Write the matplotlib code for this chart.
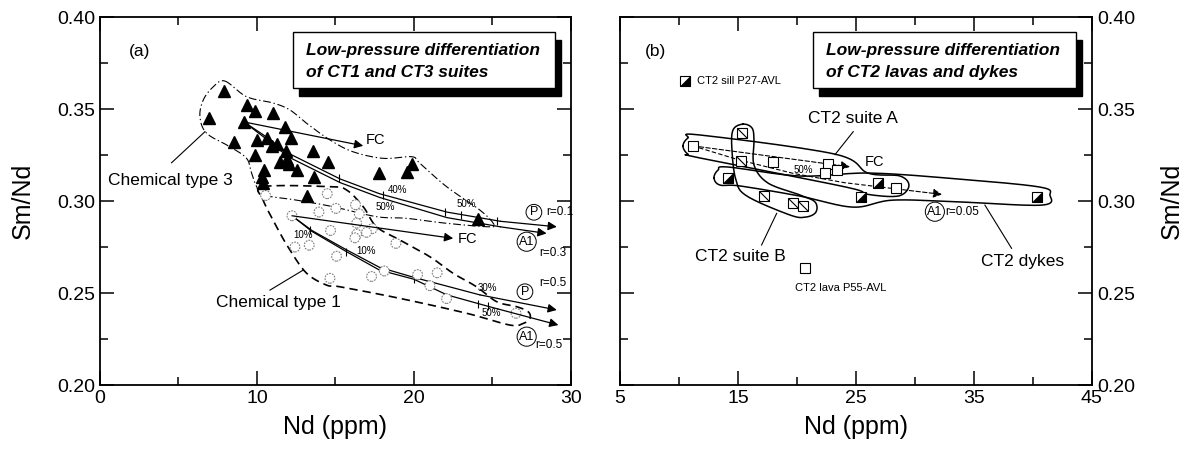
import numpy as np
import matplotlib.pyplot as plt
from matplotlib.path import Path
from matplotlib.patches import Rectangle
from matplotlib.ticker import MultipleLocator, FormatStrFormatter

plt.rcParams['font.family'] = ['Liberation Sans', 'DejaVu Sans']

# ---------------- panel (a): CT3 and CT1 suites ----------------
ct3_nd = [7.92, 6.96, 9.36, 9.87, 11.0, 9.17, 11.78, 8.56, 10.0, 10.66, 10.98, 11.25,
          12.14, 9.87, 11.83, 13.59, 11.46, 11.89, 12.06, 12.57, 14.5, 10.45, 10.34,
          10.38, 13.65, 17.79, 19.53, 19.9, 13.16, 24.1]
ct3_smnd = [0.360, 0.345, 0.352, 0.349, 0.348, 0.343, 0.340, 0.332, 0.333, 0.334, 0.330, 0.331,
            0.334, 0.325, 0.327, 0.327, 0.321, 0.323, 0.320, 0.317, 0.321, 0.317, 0.313,
            0.310, 0.313, 0.315, 0.316, 0.320, 0.303, 0.290]

ct1_nd = [10.55, 14.48, 12.23, 13.95, 15.03, 16.28, 16.52, 16.35, 14.69, 16.35, 17.35, 16.98,
          16.24, 18.85, 12.42, 13.33, 15.07, 18.11, 14.65, 17.3, 20.23, 21.48, 21.02, 22.08, 26.5]
ct1_smnd = [0.303, 0.304, 0.292, 0.294, 0.296, 0.298, 0.293, 0.288, 0.284, 0.282, 0.285, 0.283,
            0.280, 0.277, 0.275, 0.276, 0.270, 0.262, 0.258, 0.259, 0.260, 0.261, 0.254, 0.247, 0.239]

# fractional crystallisation / AFC paths
fc3_nd = [9.17, 16.77]
fc3_smnd = [0.343, 0.330]
p3_nd = [9.17, 10.4, 12.0, 15.3, 17.8, 22.1, 25.5, 29.1]
p3_smnd = [0.343, 0.336, 0.326, 0.312, 0.304, 0.294, 0.289, 0.286]
a3_nd = [9.17, 10.4, 12.0, 15.3, 17.8, 22.1, 25.5, 28.45]
a3_smnd = [0.343, 0.335, 0.324, 0.310, 0.302, 0.291, 0.286, 0.2824]

fc1_nd = [12.23, 22.5]
fc1_smnd = [0.292, 0.2797]
p1_nd = [12.23, 13.5, 15.7, 17.8, 20.0, 24.2, 29.1]
p1_smnd = [0.292, 0.284, 0.2735, 0.264, 0.2585, 0.249, 0.2408]
a1_nd = [12.23, 13.5, 15.7, 17.8, 20.0, 22.1, 24.8, 29.2]
a1_smnd = [0.292, 0.2835, 0.2725, 0.2625, 0.2575, 0.249, 0.2426, 0.2326]

ticks3_nd = [15.2, 18.0, 22.0, 23.0, 25.3]
ticks1_nd = [13.4, 15.7, 20.0, 24.1, 24.7]

# field outlines
ct3_env_nd = [7.96, 9.34, 11.02, 12.10, 13.17, 14.65, 16.11, 18.04, 19.85, 20.38, 22.08, 24.2,
              25.05, 24.84, 22.08, 19.54, 17.62, 14.86, 12.53, 10.4, 9.98, 9.66, 9.34, 8.28,
              6.80, 6.37, 6.58, 7.22]
ct3_env_smnd = [0.3652, 0.3567, 0.3533, 0.3495, 0.3422, 0.3332, 0.3268, 0.3232, 0.3241, 0.3205,
                0.3078, 0.2951, 0.2879, 0.2860, 0.2879, 0.2906, 0.2915, 0.2969, 0.3005, 0.3033,
                0.3078, 0.3151, 0.3232, 0.3295, 0.3368, 0.3458, 0.3549, 0.3621]
ct1_env_nd = [10.4, 14.65, 15.71, 16.77, 17.62, 19.11, 21.02, 22.5, 23.99, 25.27, 26.54, 27.28,
              27.39, 26.96, 26.11, 23.36, 19.11, 15.29, 14.44, 13.17, 12.10, 11.25, 10.4]
ct1_env_smnd = [0.3078, 0.3078, 0.3060, 0.2969, 0.2860, 0.2788, 0.2697, 0.2607, 0.2534, 0.2453,
                0.2426, 0.2398, 0.2362, 0.2335, 0.2326, 0.2390, 0.2471, 0.2534, 0.2543, 0.2607,
                0.2734, 0.2860, 0.3005]

# ---------------- panel (b): CT2 lavas and dykes ----------------
suiteA_nd = [11.16, 17.94, 22.65, 22.37, 23.36, 28.36]
suiteA_smnd = [0.330, 0.321, 0.320, 0.3154, 0.3168, 0.3069]
suiteB_nd = [15.31, 15.25, 17.23, 19.64, 20.48]
suiteB_smnd = [0.3368, 0.3215, 0.3029, 0.2991, 0.2973]
dykes_nd = [14.18, 25.42, 26.89, 40.31]
dykes_smnd = [0.3123, 0.302, 0.3096, 0.3023]
lava_p55 = (20.68, 0.2638)
sill_p27 = (10.51, 0.3652)

fcb_nd = [11.16, 24.49]
fcb_smnd = [0.330, 0.3186]
ab_nd = [11.16, 15.0, 19.7, 24.0, 28.4, 32.3]
ab_smnd = [0.330, 0.3225, 0.315, 0.310, 0.3066, 0.3036]

envA_nd = [10.34, 10.76, 11.78, 23.22, 26.02, 28.73, 29.49, 28.56, 25.85, 24.15, 11.78, 10.76]
envA_smnd = [0.3299, 0.3342, 0.3359, 0.3255, 0.3152, 0.3136, 0.3082, 0.3027, 0.3038, 0.3076,
             0.3234, 0.3255]
envB_nd = [15.42, 16.19, 16.36, 16.36, 17.54, 20.25, 21.53, 21.61, 20.76, 19.41, 15.76, 14.83,
           14.49, 14.58]
envB_smnd = [0.3418, 0.3397, 0.3332, 0.3196, 0.3098, 0.3033, 0.2995, 0.2940, 0.2913, 0.2924,
             0.3027, 0.3114, 0.3277, 0.3386]
envD_nd = [12.97, 13.31, 14.15, 20.25, 26.19, 33.81, 40.59, 41.44, 40.76, 33.81, 28.14, 24.75,
           20.25, 15.17, 13.47]
envD_smnd = [0.3125, 0.3168, 0.3185, 0.3136, 0.3152, 0.3119, 0.3076, 0.3033, 0.2978, 0.2995,
             0.3005, 0.2967, 0.3027, 0.3082, 0.3087]


def outline(xs, ys, n=14):
    # closed Catmull-Rom curve through the outline vertices
    p = np.column_stack([xs, ys])
    m = len(p)
    t = np.linspace(0, 1, n, endpoint=False)[:, None]
    segs = []
    for i in range(m):
        p0, p1, p2, p3 = p[i - 1], p[i], p[(i + 1) % m], p[(i + 2) % m]
        segs.append(0.5 * (2 * p1 + (p2 - p0) * t + (2 * p0 - 5 * p1 + 4 * p2 - p3) * t ** 2
                           + (3 * p1 - p0 - 3 * p2 + p3) * t ** 3))
    pts = np.vstack(segs + [segs[0][:1]])
    return pts[:, 0], pts[:, 1]


def path_arrow(ax, xs, ys, ls='-', lw=0.9):
    ax.plot(xs[:-1], ys[:-1], color='k', lw=lw, ls=ls)
    ax.annotate('', xy=(xs[-1], ys[-1]), xytext=(xs[-2], ys[-2]),
                arrowprops=dict(arrowstyle='-|>', color='k', lw=lw, ls=ls,
                                mutation_scale=13, shrinkA=0, shrinkB=0))


def title_box(ax, lines):
    ax.add_patch(Rectangle((0.4227, 0.7853), 0.557, 0.152, transform=ax.transAxes,
                           facecolor='k', edgecolor='k', zorder=5))
    ax.add_patch(Rectangle((0.410, 0.807), 0.557, 0.152, transform=ax.transAxes,
                           facecolor='white', edgecolor='k', lw=1.0, zorder=6))
    ax.text(0.437, 0.910, lines[0], transform=ax.transAxes, fontsize=12.5,
            fontweight='bold', style='italic', va='center', zorder=7)
    ax.text(0.437, 0.848, lines[1], transform=ax.transAxes, fontsize=12.5,
            fontweight='bold', style='italic', va='center', zorder=7)


def circled(ax, x, y, s):
    ax.text(x, y, s, fontsize=9, ha='center', va='center',
            bbox=dict(boxstyle='circle,pad=0.15', fc='white', ec='k', lw=0.7))


def style_axes(ax):
    ax.set_ylim(0.20, 0.40)
    ax.yaxis.set_major_locator(MultipleLocator(0.05))
    ax.yaxis.set_minor_locator(MultipleLocator(0.025))
    ax.yaxis.set_major_formatter(FormatStrFormatter('%.2f'))
    ax.tick_params(which='both', direction='in', top=True, right=True, labelsize=14, width=1.1)
    ax.tick_params(which='major', length=10)
    ax.tick_params(which='minor', length=6)
    for sp in ax.spines.values():
        sp.set_linewidth(1.3)


fig = plt.figure(figsize=(11.87, 4.53), dpi=100)
ax1 = fig.add_axes([0.0842, 0.150, 0.3968, 0.8124])
ax2 = fig.add_axes([0.5223, 0.150, 0.3976, 0.8124])

# ----- panel (a)
ax = ax1
style_axes(ax)
ax.set_xlim(0, 30)
ax.xaxis.set_major_locator(MultipleLocator(10))
ax.xaxis.set_minor_locator(MultipleLocator(5))
ax.set_xlabel('Nd (ppm)', fontsize=18, labelpad=6)
ax.set_ylabel('Sm/Nd', fontsize=18, labelpad=16)

ex, ey = outline(ct3_env_nd, ct3_env_smnd)
ax.plot(ex, ey, color='k', lw=0.8, ls=(0, (7, 2.5, 1.2, 2.5)))
ex, ey = outline(ct1_env_nd, ct1_env_smnd)
ax.plot(ex, ey, color='k', lw=1.2, ls=(0, (5, 3)))

ax.scatter(ct1_nd, ct1_smnd, s=50, facecolors='white', edgecolors='0.5',
           linewidths=0.8, linestyles=(0, (1.6, 1.0)), zorder=3)
ax.plot(ct3_nd, ct3_smnd, ls='none', marker='^', ms=8, color='k', zorder=4)

path_arrow(ax, fc3_nd, fc3_smnd)
path_arrow(ax, p3_nd, p3_smnd)
path_arrow(ax, a3_nd, a3_smnd)
path_arrow(ax, fc1_nd, fc1_smnd)
path_arrow(ax, p1_nd, p1_smnd)
path_arrow(ax, a1_nd, a1_smnd)
ax.plot(ticks3_nd, np.interp(ticks3_nd, p3_nd, p3_smnd), ls='none', marker='|', ms=6, color='k', mew=0.8)
ax.plot(ticks1_nd, np.interp(ticks1_nd, a1_nd, a1_smnd), ls='none', marker='|', ms=6, color='k', mew=0.8)

ax.text(16.95, 0.3331, 'FC', fontsize=10.5, va='center')
ax.text(22.8, 0.2792, 'FC', fontsize=10.5, va='center')
for x, y, s in [(18.96, 0.306, '40%'), (18.15, 0.2969, '50%'), (23.31, 0.2984, '50%'),
                (12.95, 0.2815, '10%'), (16.94, 0.273, '10%'), (24.67, 0.2526, '30%'),
                (24.95, 0.2390, '50%')]:
    ax.text(x, y, s, fontsize=7, ha='center', va='center')

circled(ax, 27.64, 0.2939, 'P')
ax.text(28.4, 0.2939, 'r=0.1', fontsize=8.5, va='center')
circled(ax, 27.18, 0.2779, 'A1')
ax.text(27.96, 0.2716, 'r=0.3', fontsize=8.5, va='center')
circled(ax, 27.07, 0.2507, 'P')
ax.text(28.0, 0.2553, 'r=0.5', fontsize=8.5, va='center')
circled(ax, 27.18, 0.2263, 'A1')
ax.text(27.7, 0.2217, 'r=0.5', fontsize=8.5, va='center')

ax.text(2.55, 0.381, '(a)', fontsize=12.5, ha='center', va='center')
ax.text(4.46, 0.3114, 'Chemical type 3', fontsize=12.5, ha='center', va='center')
ax.plot([4.56, 6.69], [0.3208, 0.3377], color='k', lw=0.8)
ax.text(11.34, 0.2451, 'Chemical type 1', fontsize=12.5, ha='center', va='center')
ax.plot([10.83, 12.95], [0.2516, 0.2625], color='k', lw=0.8)
title_box(ax, ['Low-pressure differentiation', 'of CT1 and CT3 suites'])

# ----- panel (b)
ax = ax2
style_axes(ax)
ax.set_xlim(5, 45)
ax.set_xticks([5, 15, 25, 35, 45])
ax.set_xticks([10, 20, 30, 40], minor=True)
ax.tick_params(labelleft=False, labelright=True)
ax.yaxis.set_label_position('right')
ax.set_xlabel('Nd (ppm)', fontsize=18, labelpad=6)
ax.set_ylabel('Sm/Nd', fontsize=18, labelpad=18)

for env_x, env_y in [(envA_nd, envA_smnd), (envB_nd, envB_smnd), (envD_nd, envD_smnd)]:
    ex, ey = outline(env_x, env_y)
    ax.plot(ex, ey, color='k', lw=1.1)

path_arrow(ax, fcb_nd, fcb_smnd, ls=(0, (4, 2)), lw=0.8)
path_arrow(ax, ab_nd, ab_smnd, ls=(0, (4, 2)), lw=0.8)

half = Path([(-1, -1), (1, -1), (1, 1), (-1, -1)],
            [Path.MOVETO, Path.LINETO, Path.LINETO, Path.CLOSEPOLY])
diag = Path([(-1, 1), (1, -1)], [Path.MOVETO, Path.LINETO])
sq = dict(ls='none', marker='s', ms=7, mfc='white', mec='k', mew=0.8, zorder=4)

ax.plot(suiteA_nd, suiteA_smnd, **sq)
ax.plot(*lava_p55, **sq)
ax.plot(suiteB_nd, suiteB_smnd, **sq)
ax.plot(suiteB_nd, suiteB_smnd, ls='none', marker=diag, ms=7, mec='k', mew=0.8, zorder=5)
ax.plot(dykes_nd + [sill_p27[0]], dykes_smnd + [sill_p27[1]], **sq)
ax.plot(dykes_nd + [sill_p27[0]], dykes_smnd + [sill_p27[1]], ls='none', marker=half, ms=7,
        mfc='k', mec='k', mew=0.5, zorder=5)

ax.text(11.5, 0.3652, 'CT2 sill P27-AVL', fontsize=8, va='center')
ax.text(19.83, 0.2525, 'CT2 lava P55-AVL', fontsize=8, va='center')
ax.text(25.76, 0.3214, 'FC', fontsize=10.5, va='center')
ax.text(20.53, 0.3168, '50%', fontsize=7, ha='center', va='center')
circled(ax, 31.69, 0.2942, 'A1')
ax.text(32.6, 0.2942, 'r=0.05', fontsize=8.5, va='center')

ax.text(24.75, 0.3449, 'CT2 suite A', fontsize=12.5, ha='center', va='center')
ax.plot([23.22, 24.77], [0.3252, 0.3377], color='k', lw=0.8)
ax.text(15.17, 0.2697, 'CT2 suite B', fontsize=12.5, ha='center', va='center')
ax.plot([17.0, 18.28], [0.2761, 0.2933], color='k', lw=0.8)
ax.text(39.15, 0.2670, 'CT2 dykes', fontsize=12.5, ha='center', va='center')
ax.plot([38.19, 35.93], [0.2743, 0.2978], color='k', lw=0.8)

ax.text(7.97, 0.381, '(b)', fontsize=12.5, ha='center', va='center')
title_box(ax, ['Low-pressure differentiation', 'of CT2 lavas and dykes'])

fig.savefig('out.png', dpi=100)
